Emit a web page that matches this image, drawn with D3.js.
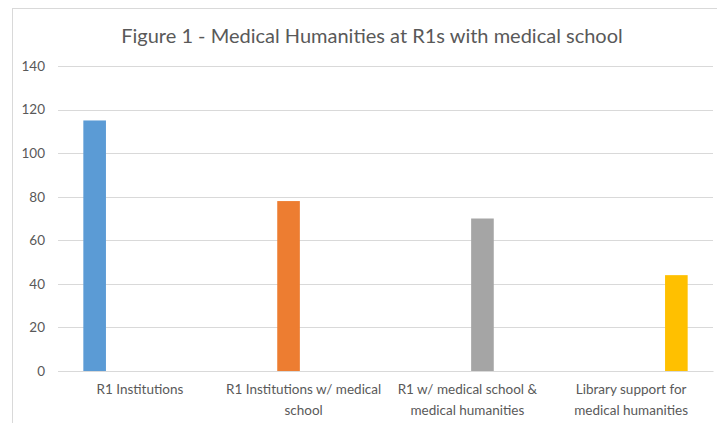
<!DOCTYPE html>
<html>
<head>
<meta charset="utf-8">
<script src="https://cdn.jsdelivr.net/npm/d3@7"></script>
<style>
  html, body { margin: 0; padding: 0; background: #fff; }
  svg { display: block; }
  text { font-family: Lato, "Open Sans", sans-serif; fill: #595959; }
</style>
</head>
<body>
<svg id="chart" width="717" height="423"></svg>
<script>
const titleText = "Figure 1 - Medical Humanities at R1s with medical school";
const categories = [
  "R1 Institutions",
  "R1 Institutions w/ medical school",
  "R1 w/ medical school & medical humanities",
  "Library support for medical humanities"
];
const seriesNames = ["Series A", "Series B", "Series C", "Series D"];
const seriesColors = ["#5B9BD5", "#ED7D31", "#A5A5A5", "#FFC000"];
// each series has a value only in its own category
const seriesValues = [
  [115, null, null, null],
  [null, 78, null, null],
  [null, null, 70, null],
  [null, null, null, 44]
];
const yTicks = [0, 20, 40, 60, 80, 100, 120, 140];

const svg = d3.select("#chart");
const W = 717, H = 423;
const m = { left: 58, right: 4, top: 66, bottom: 52 };
const plotR = W - m.right, plotB = H - m.bottom;

// outer frame
svg.append("rect").attr("x", 12.5).attr("y", 8.5).attr("width", W + 10).attr("height", H + 10)
  .attr("fill", "#fff").attr("stroke", "#D9D9D9").attr("stroke-width", 1);

const x0 = d3.scaleBand().domain(categories).range([m.left, plotR]).padding(0);
const x1 = d3.scaleBand().domain(seriesNames).range([0, x0.bandwidth()])
  .paddingInner(0.25).paddingOuter(0.84);
const y = d3.scaleLinear().domain([0, 140]).range([plotB, m.top]);

// gridlines
svg.append("g").selectAll("line").data(yTicks).join("line")
  .attr("x1", m.left).attr("x2", plotR)
  .attr("y1", d => Math.round(y(d)) + 0.5).attr("y2", d => Math.round(y(d)) + 0.5)
  .attr("stroke", "#D9D9D9").attr("stroke-width", 1);

// y axis labels
const yAxis = d3.axisLeft(y).tickValues(yTicks).tickSize(0).tickPadding(13);
const gy = svg.append("g").attr("transform", `translate(${m.left},0)`).call(yAxis);
gy.select(".domain").remove();
gy.selectAll("text").style("font-size", "13.5px").attr("fill", "#595959")
  .style("font-family", "Lato, 'Open Sans', sans-serif");

// bars
const rows = [];
seriesNames.forEach((s, si) => {
  categories.forEach((c, ci) => {
    const v = seriesValues[si][ci];
    if (v != null) rows.push({ s, c, v, color: seriesColors[si] });
  });
});
svg.append("g").selectAll("rect").data(rows).join("rect")
  .attr("x", d => x0(d.c) + x1(d.s))
  .attr("width", x1.bandwidth())
  .attr("y", d => y(d.v))
  .attr("height", d => y(0) - y(d.v))
  .attr("fill", d => d.color);

// x axis
const xAxis = d3.axisBottom(x0).tickSize(0).tickPadding(13);
const gx = svg.append("g").attr("transform", `translate(0,${plotB})`).call(xAxis);
gx.select(".domain").attr("stroke", "#D9D9D9");
gx.selectAll("text").style("font-size", "13.5px").attr("fill", "#595959")
  .style("font-family", "Lato, 'Open Sans', sans-serif")
  .call(wrap, 157);

function wrap(sel, width) {
  sel.each(function() {
    const t = d3.select(this);
    const words = t.text().split(/\s+/);
    const yy = t.attr("y"), dy = parseFloat(t.attr("dy"));
    t.text(null);
    let line = [], lineNo = 0;
    let ts = t.append("tspan").attr("x", 0).attr("y", yy).attr("dy", dy + "em");
    for (const w of words) {
      line.push(w);
      ts.text(line.join(" "));
      if (ts.node().getComputedTextLength() > width && line.length > 1) {
        line.pop();
        ts.text(line.join(" "));
        line = [w];
        ts = t.append("tspan").attr("x", 0).attr("y", yy)
          .attr("dy", (++lineNo * 1.55 + dy) + "em").text(w);
      }
    }
  });
}

// title
svg.append("text").attr("x", 372).attr("y", 43).attr("text-anchor", "middle")
  .style("font-size", "20px").attr("fill", "#595959").text(titleText);
</script>
</body>
</html>
